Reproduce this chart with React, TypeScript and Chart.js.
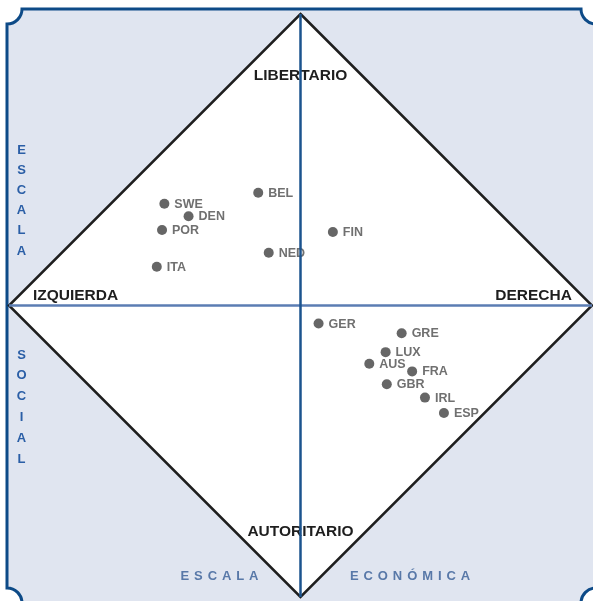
import React, { useEffect, useRef } from "react";
import { Chart, registerables } from "chart.js";

Chart.register(...registerables);

const countries = ["SWE", "DEN", "POR", "ITA", "BEL", "NED", "FIN", "GER", "GRE", "LUX", "AUS", "FRA", "GBR", "IRL", "ESP"];
const economicScale = [-4.67, -3.84, -4.75, -4.93, -1.45, -1.09, 1.11, 0.62, 3.47, 2.92, 2.36, 3.83, 2.96, 4.27, 4.92];
const socialScale = [3.49, 3.06, 2.59, 1.33, 3.87, 1.81, 2.52, -0.62, -0.95, -1.6, -2.0, -2.26, -2.7, -3.16, -3.69];

const poleLabels = ["LIBERTARIO", "AUTORITARIO", "IZQUIERDA", "DERECHA"];
const sideTitleLeft = ["ESCALA", "SOCIAL"];
const bottomTitle = ["ESCALA", "ECONÓMICA"];

const FONT = "'Liberation Sans', Arial, sans-serif";

function drawSpaced(ctx: CanvasRenderingContext2D, s: string, x: number, y: number, gap: number) {
  let cx = x;
  for (const ch of s) {
    ctx.fillText(ch, cx, y);
    cx += ctx.measureText(ch).width + gap;
  }
}

const backgroundPlugin = {
  id: "compassBackground",
  beforeDatasetsDraw(chart: any) {
    const ctx: CanvasRenderingContext2D = chart.ctx;
    const xs = chart.scales.x;
    const ys = chart.scales.y;
    ctx.save();
    // frame
    const L = 7, T = 9, R = 596, B = 603, r = 15;
    ctx.beginPath();
    ctx.moveTo(L + r, T);
    ctx.lineTo(R - r, T);
    ctx.arc(R, T, r, Math.PI, Math.PI / 2, true);
    ctx.lineTo(R, B - r);
    ctx.arc(R, B, r, -Math.PI / 2, -Math.PI, true);
    ctx.lineTo(L + r, B);
    ctx.arc(L, B, r, 0, -Math.PI / 2, true);
    ctx.lineTo(L, T + r);
    ctx.arc(L, T, r, Math.PI / 2, 0, true);
    ctx.closePath();
    ctx.fillStyle = "#e0e5f0";
    ctx.fill();
    ctx.strokeStyle = "#0d4a87";
    ctx.lineWidth = 3;
    ctx.stroke();

    // diamond
    const cx = xs.getPixelForValue(0);
    const cy = ys.getPixelForValue(0);
    const top = ys.getPixelForValue(10);
    const bottom = ys.getPixelForValue(-10);
    const left = xs.getPixelForValue(-10);
    const right = xs.getPixelForValue(10);
    ctx.beginPath();
    ctx.moveTo(cx, top);
    ctx.lineTo(right, cy);
    ctx.lineTo(cx, bottom);
    ctx.lineTo(left, cy);
    ctx.closePath();
    ctx.fillStyle = "#ffffff";
    ctx.fill();
    ctx.strokeStyle = "#1e1e1e";
    ctx.lineWidth = 2.5;
    ctx.lineJoin = "miter";
    ctx.stroke();

    // pole labels
    ctx.fillStyle = "#1e1e1e";
    ctx.font = `bold 15.5px ${FONT}`;
    ctx.textBaseline = "middle";
    ctx.textAlign = "center";
    ctx.fillText(poleLabels[0], cx, ys.getPixelForValue(7.89));
    ctx.fillText(poleLabels[1], cx, ys.getPixelForValue(-7.77));
    ctx.textAlign = "left";
    ctx.fillText(poleLabels[2], xs.getPixelForValue(-9.18), ys.getPixelForValue(0.34));
    ctx.textAlign = "right";
    ctx.fillText(poleLabels[3], xs.getPixelForValue(9.31), ys.getPixelForValue(0.34));

    // point labels
    ctx.fillStyle = "#707070";
    ctx.font = `bold 12.5px ${FONT}`;
    ctx.textAlign = "left";
    countries.forEach((c, i) => {
      ctx.fillText(c, xs.getPixelForValue(economicScale[i]) + 10, ys.getPixelForValue(socialScale[i]) + 0.5);
    });

    // left vertical titles
    ctx.font = `bold 13px ${FONT}`;
    ctx.fillStyle = "#2a5ea6";
    ctx.textAlign = "center";
    const lx = 21.5;
    [...sideTitleLeft[0]].forEach((ch, i) => ctx.fillText(ch, lx, 150 + i * 20.2));
    [...sideTitleLeft[1]].forEach((ch, i) => ctx.fillText(ch, lx, 355 + i * 20.8));

    // bottom titles
    ctx.fillStyle = "#5878a8";
    ctx.font = `bold 13px ${FONT}`;
    ctx.textAlign = "left";
    const gap = 4.9;
    drawSpaced(ctx, bottomTitle[0], 180.5, 576.5, gap);
    drawSpaced(ctx, bottomTitle[1], 350, 576.5, gap);

    // axis lines
    ctx.lineCap = "butt";
    ctx.lineWidth = 2.5;
    ctx.strokeStyle = "#5b7db3";
    ctx.beginPath();
    ctx.moveTo(left, cy);
    ctx.lineTo(right, cy);
    ctx.stroke();
    ctx.strokeStyle = "#1b538e";
    ctx.beginPath();
    ctx.moveTo(cx, top);
    ctx.lineTo(cx, bottom);
    ctx.stroke();
    ctx.restore();
  },
};

export default function App() {
  const ref = useRef<HTMLCanvasElement | null>(null);
  useEffect(() => {
    if (!ref.current) return;
    const chart = new Chart(ref.current, {
      type: "scatter",
      data: {
        datasets: [
          {
            label: "Países",
            data: countries.map((_, i) => ({ x: economicScale[i], y: socialScale[i] })),
            backgroundColor: "#666666",
            borderWidth: 0,
            pointRadius: 5,
            pointHoverRadius: 5,
          },
        ],
      },
      options: {
        responsive: false,
        animation: false,
        devicePixelRatio: 1,
        layout: { autoPadding: false, padding: { left: 9, right: 1, top: 14, bottom: 4 } },
        plugins: { legend: { display: false }, tooltip: { enabled: false }, title: { display: false } },
        scales: {
          x: { type: "linear", min: -10, max: 10, display: false },
          y: { type: "linear", min: -10, max: 10, display: false },
        },
      },
      plugins: [backgroundPlugin],
    });
    return () => chart.destroy();
  }, []);
  return (
    <div style={{ position: "fixed", left: 0, top: 0, width: 593, height: 601, background: "#ffffff" }}>
      <canvas ref={ref} width={593} height={601} style={{ display: "block", width: 593, height: 601 }} />
    </div>
  );
}
